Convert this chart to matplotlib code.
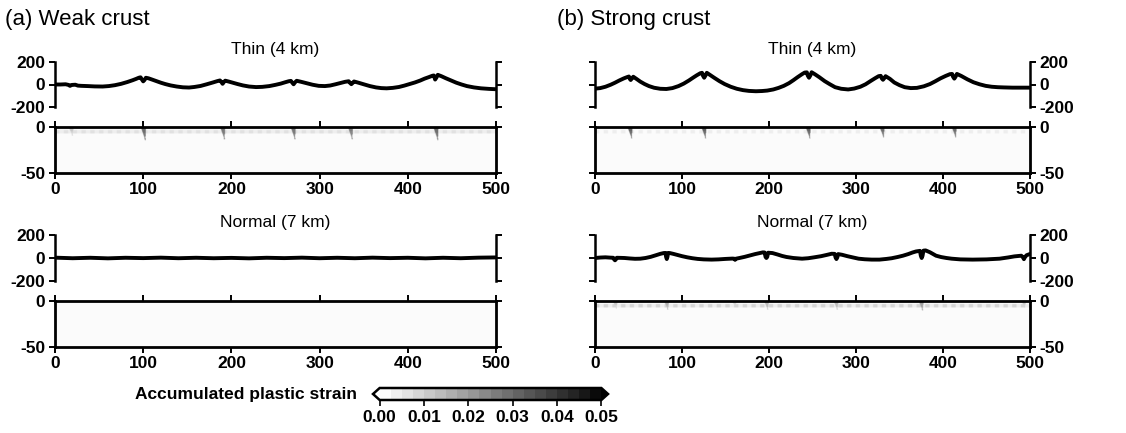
import numpy as np
import matplotlib
matplotlib.use("Agg")
import matplotlib.pyplot as plt
from matplotlib.colors import ListedColormap, BoundaryNorm
import matplotlib.colorbar as mcolorbar

plt.rcParams['font.family'] = ['Liberation Sans', 'DejaVu Sans']
plt.rcParams['axes.unicode_minus'] = False

# ---------------- data ----------------
# topography profiles (x in km, height in m)
weak_thin_x = [0, 6, 12, 15, 17, 19, 23, 26, 30, 37, 45, 54, 61, 68, 75, 82, 88, 92, 95, 97, 98.5, 100,
               101.5, 103, 106, 110, 115, 120, 125, 131, 138, 145, 152, 158, 165, 172, 179, 184, 187,
               188.5, 190, 191.5, 193, 197, 202, 207, 213, 220, 228, 235, 243, 250, 256, 261, 265,
               267.5, 269, 270.5, 272, 274, 279, 285, 292, 299, 306, 312, 318, 324, 329, 333, 334.5,
               336, 337.5, 339, 344, 350, 357, 364, 370, 376, 383, 390, 396, 402, 408, 414, 419, 424,
               428, 429.5, 431, 432.5, 434, 438, 443, 449, 455, 461, 467, 475, 483, 492, 500]
weak_thin_h = [0, 0, 2, -3, -12, -4, -2, -10, -12, -14, -17, -18, -14, -6, 6, 22, 38, 50, 60, 64, 45, 28,
               40, 60, 55, 44, 30, 16, 4, -8, -18, -25, -27, -22, -13, 2, 18, 30, 36,
               24, 6, 22, 34, 26, 15, 4, -8, -18, -23, -21, -14, -3, 8, 20, 29,
               32, 16, 2, 18, 33, 24, 12, -2, -12, -14, -9, 2, 14, 24, 29, 14,
               3, 14, 27, 16, 2, -14, -26, -32, -34, -30, -22, -10, 4, 18, 35, 52, 66,
               78, 80, 44, 62, 86, 74, 56, 36, 16, 0, -14, -26, -34, -39, -42]

weak_norm_x = [0, 20, 40, 60, 80, 100, 120, 140, 160, 180, 200, 220, 240, 260, 280, 300, 320, 340,
               360, 380, 400, 420, 440, 460, 480, 500]
weak_norm_h = [3, -2, 2, -3, 2, -1, 3, -2, 2, -2, 1, -3, 2, -1, 3, -2, 2, -2, 3, -1, 2, -3, 2, -2, 3, 5]

strong_thin_x = [0, 6, 12, 18, 23, 28, 33, 37, 39, 40, 41, 42.5, 44, 48, 52, 57, 62, 68, 75, 82, 89, 96,
                 102, 108, 113, 117, 121, 123, 124, 125.5, 127, 128.5, 132, 137, 143, 149, 156, 163,
                 170, 177, 185, 192, 198, 205, 211, 217, 223, 228, 233, 238, 241, 243.5, 244.5, 246,
                 247.5, 249, 253, 258, 264, 270, 276, 283, 291, 298, 305, 311, 317, 322, 326, 328.5,
                 329.5, 331, 332.5, 334, 339, 344, 350, 356, 363, 370, 378, 385, 391, 397, 403, 408,
                 410.5, 411.5, 413, 414.5, 416, 421, 428, 435, 442, 449, 456, 463, 470, 480, 490, 500]
strong_thin_h = [-37, -32, -20, -2, 16, 36, 54, 66, 71, 50, 40, 55, 69, 48, 26, 4, -14, -29, -38, -40,
                 -32, -14, 8, 36, 62, 82, 100, 104, 80, 60, 80, 104, 86, 60, 30, 4, -20, -38,
                 -50, -57, -60, -58, -54, -44, -30, -12, 12, 38, 66, 92, 106, 108, 80, 60,
                 80, 109, 90, 64, 30, 2, -24, -38, -44, -36, -20, 2, 32, 56, 74, 77,
                 56, 42, 56, 74, 50, 18, -6, -24, -32, -30, -16, 4, 28, 54, 76, 92,
                 94, 70, 52, 70, 94, 76, 46, 20, 2, -12, -20, -24, -26, -28, -28, -28]

strong_norm_x = [0, 6, 12, 18, 21, 22, 23, 24, 25, 30, 34, 40, 46, 52, 58, 64, 70, 75, 79, 81, 81.7,
                 82.5, 83.3, 84, 86, 90, 95, 100, 106, 112, 118, 125, 134, 142, 150, 158, 160, 161,
                 162, 166, 172, 178, 184, 190, 193, 195, 196, 197, 198, 199, 204, 210, 215, 220, 228,
                 238, 245, 252, 260, 267, 272, 275.5, 276.5, 277.5, 278.5, 279.5, 284, 290, 297, 303,
                 310, 318, 327, 335, 341, 348, 354, 360, 365, 369, 373.5, 374.5, 375.5, 376.5, 377.5,
                 380, 385, 392, 398, 404, 410, 420, 434, 450, 465, 475, 482, 490, 492, 493, 494, 496,
                 500]
strong_norm_h = [0, 4, 6, 3, 2, -12, -20, -12, 2, 1, 0, -4, -7, -6, 0, 10, 24, 36, 43, 44, 10,
                 -9, 10, 44, 43, 36, 26, 16, 6, -2, -8, -12, -14, -12, -8, -5, -6, -16,
                 -6, 0, 10, 22, 34, 44, 49, 48, 10, 0, 10, 46, 43, 30, 18, 9, 0,
                 -6, -2, 6, 16, 28, 37, 36, 5, -9, 5, 34, 28, 16, 4, -6,
                 -11, -14, -14, -8, -2, 9, 20, 34, 48, 57, 62, 20, 0, 20, 64,
                 66, 50, 20, 8, 0, -6, -12, -14, -12, -6, 5, 14, 20, 5, -10, 5, 24,
                 35]

# strain fields: fault positions (km), peak strain, fault depth (km)
weak_thin_fault_x = [18, 100, 190, 270, 335, 432]
weak_thin_fault_e = [0.012, 0.032, 0.03, 0.03, 0.028, 0.032]
weak_thin_fault_d = [10, 15, 14, 14, 14, 15]
weak_thin_band = 0.006

weak_norm_fault_x = []
weak_norm_fault_e = []
weak_norm_fault_d = []
weak_norm_band = 0.0

strong_thin_fault_x = [40, 125, 245, 330, 413]
strong_thin_fault_e = [0.034, 0.034, 0.034, 0.032, 0.032]
strong_thin_fault_d = [13, 13, 13, 12, 12]
strong_thin_band = 0.003

strong_norm_fault_x = [23, 82, 160, 197, 277, 375, 493]
strong_norm_fault_e = [0.012, 0.018, 0.01, 0.016, 0.016, 0.022, 0.012]
strong_norm_fault_d = [9, 10, 7, 10, 10, 11, 8]
strong_norm_band = 0.008

background_strain = 0.001

x_ticks = [0, 100, 200, 300, 400, 500]
topo_ticks = [-200, 0, 200]
depth_ticks = [-50, 0]
cbar_ticks = [0.00, 0.01, 0.02, 0.03, 0.04, 0.05]

# ---------------- colormap ----------------
levels = np.linspace(0, 0.05, 21)
greys = np.linspace(0.985, 0.04, 20)
cmap = ListedColormap([(g, g, g) for g in greys])
cmap.set_under('white')
cmap.set_over('black')
norm = BoundaryNorm(levels, cmap.N)


def strain_grid(fx, fe, fd, band):
    xs = np.arange(0, 500.5, 0.5)
    zs = np.arange(0, 50.25, 0.25)
    X, Z = np.meshgrid(xs, zs)
    S = np.full(X.shape, background_strain)
    if band > 0:
        dash = ((X // 5) % 2 == 0)
        inband = (Z > 4.0) & (Z < 8.0)
        S = np.where(inband & dash, band, S)
        S = np.where(inband & ~dash, band * 0.6, S)
    for x0, e, d in zip(fx, fe, fd):
        half = 3.2 * (1 - Z / d)
        centre = x0 + 0.15 * Z
        m = (Z <= d) & (np.abs(X - centre) <= np.maximum(half, 0.6))
        S = np.where(m, np.maximum(S, e * (1 - 0.3 * Z / d)), S)
    return S


fig = plt.figure(figsize=(11.26, 4.33), dpi=100)
W, H = 1126.0, 433.0


def ax_px(x0, x1, ytop, ybot):
    return fig.add_axes([x0 / W, 1 - ybot / H, (x1 - x0) / W, (ybot - ytop) / H])


panels = [
    dict(x0=55, x1=496, side='left', rows=[
        (62, 107, 126.7, 173.3, weak_thin_x, weak_thin_h,
         (weak_thin_fault_x, weak_thin_fault_e, weak_thin_fault_d, weak_thin_band), 'Thin (4 km)'),
        (235, 281, 301, 347.3, weak_norm_x, weak_norm_h,
         (weak_norm_fault_x, weak_norm_fault_e, weak_norm_fault_d, weak_norm_band), 'Normal (7 km)')]),
    dict(x0=595, x1=1030, side='right', rows=[
        (62, 107, 126.7, 173.3, strong_thin_x, strong_thin_h,
         (strong_thin_fault_x, strong_thin_fault_e, strong_thin_fault_d, strong_thin_band), 'Thin (4 km)'),
        (235, 281, 301, 347.3, strong_norm_x, strong_norm_h,
         (strong_norm_fault_x, strong_norm_fault_e, strong_norm_fault_d, strong_norm_band), 'Normal (7 km)')]),
]

tick_fs = 12.5
for p in panels:
    for (tt, tb, st, sb, tx, th, sf, title) in p['rows']:
        # topography
        a = ax_px(p['x0'], p['x1'], tt, tb)
        a.plot(tx, th, color='black', lw=2.8, solid_joinstyle='round', solid_capstyle='round')
        a.set_xlim(0, 500)
        a.set_ylim(-200, 200)
        for s in ['top', 'bottom']:
            a.spines[s].set_visible(False)
        for s in ['left', 'right']:
            a.spines[s].set_linewidth(1.8)
        a.set_xticks([])
        a.set_yticks(topo_ticks)
        a.tick_params(axis='y', direction='out', length=4, width=1.4, left=True, right=True,
                      labelleft=(p['side'] == 'left'), labelright=(p['side'] == 'right'),
                      labelsize=tick_fs, pad=3)
        for lab in a.get_yticklabels():
            lab.set_fontweight('bold')
        a.patch.set_alpha(0)
        a.set_title(title, fontsize=12.5, pad=6)

        # strain
        b = ax_px(p['x0'], p['x1'], st, sb)
        S = strain_grid(*sf)
        b.imshow(S, extent=[0, 500, -50, 0], origin='upper', aspect='auto', cmap=cmap, norm=norm,
                 interpolation='bilinear')
        b.set_xlim(0, 500)
        b.set_ylim(-50, 0)
        for s in b.spines.values():
            s.set_linewidth(2.0)
        b.set_xticks(x_ticks)
        b.set_yticks(depth_ticks)
        b.tick_params(axis='x', direction='out', length=4, width=1.4, top=True, bottom=True,
                      labelsize=tick_fs, pad=2)
        b.tick_params(axis='y', direction='out', length=4, width=1.4, left=True, right=True,
                      labelleft=(p['side'] == 'left'), labelright=(p['side'] == 'right'),
                      labelsize=tick_fs, pad=3)
        for lab in b.get_xticklabels() + b.get_yticklabels():
            lab.set_fontweight('bold')

fig.text(5 / W, 1 - 19 / H, '(a) Weak crust', fontsize=16, ha='left', va='center')
fig.text(557 / W, 1 - 19 / H, '(b) Strong crust', fontsize=16, ha='left', va='center')

# colorbar
cax = ax_px(373, 608, 388, 400)
cb = mcolorbar.ColorbarBase(cax, cmap=cmap, norm=norm, boundaries=np.concatenate([[-1], levels, [1]]),
                            extend='both', orientation='horizontal', ticks=cbar_ticks,
                            extendfrac=0.03, spacing='uniform')
cb.minorticks_off()
cb.outline.set_linewidth(1.8)
cb.ax.tick_params(direction='out', length=4, width=1.2, labelsize=tick_fs, pad=3)
cb.ax.set_xticklabels(['%.2f' % t for t in cbar_ticks])
for lab in cb.ax.get_xticklabels():
    lab.set_fontweight('bold')
fig.text(357 / W, 1 - 394 / H, 'Accumulated plastic strain', fontsize=12.5, fontweight='bold',
         ha='right', va='center')

fig.savefig('out.png', dpi=100)
